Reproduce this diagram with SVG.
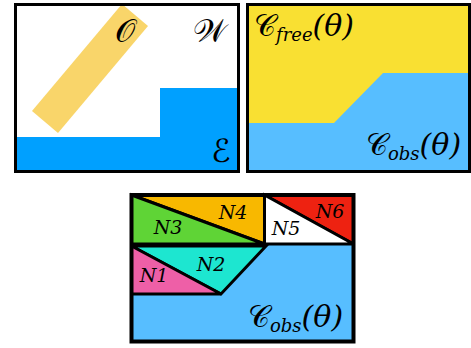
<svg xmlns="http://www.w3.org/2000/svg" width="471" height="348" viewBox="0 0 471 348">
<style>
.frame{fill:none;stroke:#000;stroke-width:3}
.m{font-family:'DejaVu Serif', serif;font-style:italic;fill:#000}
.cal{font-family:'DejaVu Sans', 'Noto Sans', serif;font-style:normal;fill:#000}
.n{font-family:'DejaVu Serif', serif;font-style:italic;font-size:19px;fill:#000}
.cell{stroke:#000;stroke-width:3;stroke-linejoin:miter}
</style>
<rect width="471" height="348" fill="#fff"/>
<g id="workspace">
  <rect x="15.5" y="4.5" width="223" height="167" fill="#fff"/>
  <path d="M15.5 137 H160 V88 H238.5 V171.5 H15.5 Z" fill="#00A0FF"/>
  <polygon points="32,111 58,133 148,26 122,4" fill="#F9D56A"/>
  <rect x="15.5" y="4.5" width="223" height="167" class="frame"/>
  <text class="cal" x="125" y="42" font-size="32" text-anchor="middle">𝒪</text>
  <text class="cal" x="210" y="42" font-size="32" text-anchor="middle">𝒲</text>
  <text class="cal" x="221" y="162" font-size="32" text-anchor="middle">ℰ</text>
</g>
<g id="cspace">
  <rect x="247.5" y="4.5" width="222" height="167" fill="#F9E032"/>
  <path d="M247.5 123 H334 L383 73 H469.5 V171.5 H247.5 Z" fill="#57BEFF"/>
  <rect x="247.5" y="4.5" width="222" height="167" class="frame"/>
  <text x="254" y="36"><tspan class="cal" font-size="30">𝒞</tspan><tspan class="m" font-size="18" dy="5">free</tspan><tspan class="m" font-size="30" dy="-5">(θ)</tspan></text>
  <text x="366" y="155"><tspan class="cal" font-size="30">𝒞</tspan><tspan class="m" font-size="18" dy="5">obs</tspan><tspan class="m" font-size="30" dy="-5">(θ)</tspan></text>
</g>
<g id="decomposition">
  <rect x="131.5" y="195" width="222" height="146.5" fill="#57BEFF"/>
  <g id="N4"><polygon class="cell" points="131.5,195 264.5,195 264.5,244" fill="#F8B800"/><text class="n" x="233" y="219" text-anchor="middle">N4</text></g>
  <g id="N3"><polygon class="cell" points="131.5,195 264.5,244 131.5,244" fill="#5FD436"/><text class="n" x="168" y="234" text-anchor="middle">N3</text></g>
  <g id="N6"><polygon class="cell" points="264.5,195 353.5,195 353.5,244" fill="#EE2211"/><text class="n" x="330" y="218" text-anchor="middle">N6</text></g>
  <g id="N5"><polygon class="cell" points="264.5,195 353.5,244 264.5,244" fill="#fff"/><text class="n" x="286" y="235" text-anchor="middle">N5</text></g>
  <g id="N2"><polygon class="cell" points="131.5,246 266,246 221,294" fill="#1DE6D0"/><text class="n" x="211" y="271" text-anchor="middle">N2</text></g>
  <g id="N1"><polygon class="cell" points="131.5,246 221,294 131.5,294" fill="#EE5FA7"/><text class="n" x="154" y="282" text-anchor="middle">N1</text></g>
  <rect x="131.5" y="195" width="222" height="146.5" fill="none" stroke="#000" stroke-width="4"/>
  <text x="248" y="327"><tspan class="cal" font-size="30">𝒞</tspan><tspan class="m" font-size="18" dy="5">obs</tspan><tspan class="m" font-size="30" dy="-5">(θ)</tspan></text>
</g>
</svg>
